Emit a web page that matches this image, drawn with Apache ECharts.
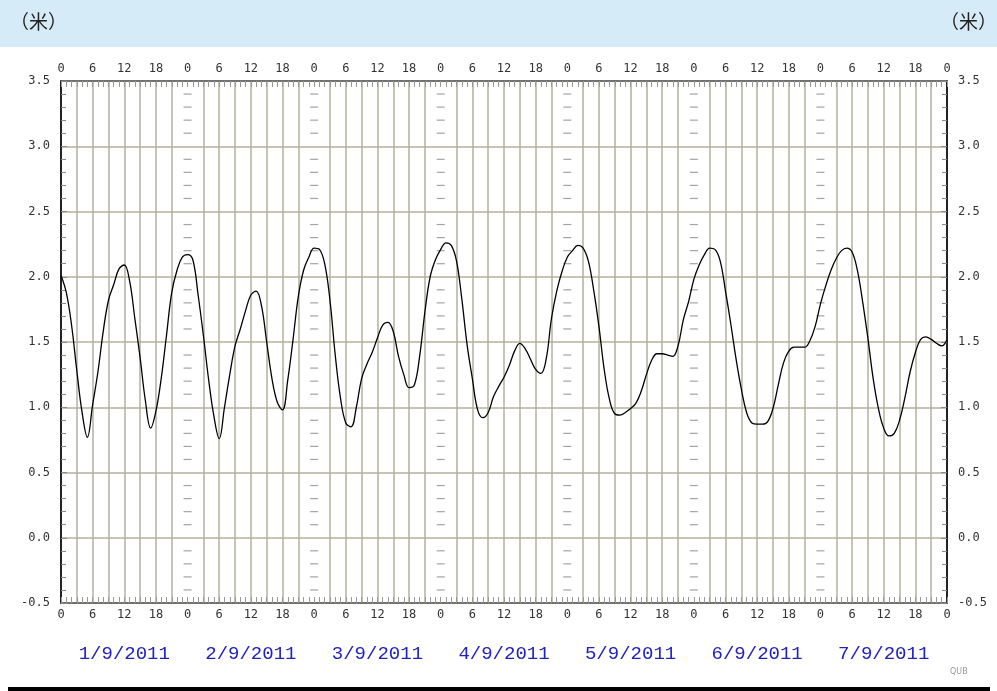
<!DOCTYPE html>
<html>
<head>
<meta charset="utf-8">
<script src="https://cdn.jsdelivr.net/npm/echarts@6/dist/echarts.min.js"></script>
<style>
	html, body { margin: 0; padding: 0; background: #fff; }
	#main { width: 997px; height: 691px; }
</style>
</head>
<body>
<div id="main"></div>
<script>
// 潮高 (米), hourly from 1/9/2011 00:00 to 8/9/2011 00:00
var tide = [
	2.01, 1.88, 1.63, 1.28, 0.96, 0.77, 1.02, 1.27, 1.58, 1.82, 1.94, 2.06,
	2.09, 1.97, 1.68, 1.38, 1.05, 0.84, 0.97, 1.22, 1.55, 1.88, 2.05, 2.15,
	2.17, 2.13, 1.86, 1.55, 1.21, 0.93, 0.76, 1.00, 1.25, 1.47, 1.60, 1.74,
	1.86, 1.89, 1.78, 1.50, 1.22, 1.04, 0.98, 1.21, 1.52, 1.85, 2.05, 2.15,
	2.22, 2.21, 2.10, 1.82, 1.40, 1.07, 0.88, 0.85, 1.00, 1.22, 1.33, 1.42,
	1.53, 1.63, 1.65, 1.58, 1.39, 1.25, 1.15, 1.17, 1.39, 1.73, 2.00, 2.13,
	2.21, 2.26, 2.24, 2.12, 1.83, 1.48, 1.22, 0.98, 0.92, 0.96, 1.08, 1.16,
	1.23, 1.32, 1.43, 1.49, 1.45, 1.37, 1.29, 1.26, 1.37, 1.68, 1.89, 2.04,
	2.15, 2.20, 2.24, 2.22, 2.12, 1.90, 1.62, 1.29, 1.06, 0.95, 0.94, 0.96,
	0.99, 1.03, 1.12, 1.25, 1.36, 1.41, 1.41, 1.40, 1.39, 1.47, 1.67, 1.81,
	1.98, 2.09, 2.17, 2.22, 2.21, 2.12, 1.89, 1.64, 1.37, 1.14, 0.96, 0.88,
	0.87, 0.87, 0.89, 0.99, 1.17, 1.34, 1.43, 1.46, 1.46, 1.46, 1.51, 1.62,
	1.79, 1.93, 2.05, 2.14, 2.20, 2.22, 2.19, 2.05, 1.81, 1.53, 1.22, 0.99,
	0.84, 0.78, 0.80, 0.90, 1.07, 1.27, 1.42, 1.52, 1.54, 1.52, 1.49, 1.47,
	1.52
];
var dates = ['1/9/2011', '2/9/2011', '3/9/2011', '4/9/2011', '5/9/2011', '6/9/2011', '7/9/2011'];
var dayStarts = [24, 48, 72, 96, 120, 144];
var yMin = -0.5, yMax = 3.5;

var gridColor = '#b3b09c';
var labelFont = 'DejaVu Sans Mono';

var chart = echarts.init(document.getElementById('main'));

// 每日分界线上的刻度 (0.1米)
var rulerData = [];
for (var d = 0; d < dayStarts.length; d++) {
	for (var k = -4; k <= 34; k++) {
		if (k % 5 === 0) continue;
		rulerData.push([dayStarts[d], k / 10]);
	}
}

var lineData = [];
for (var i = 0; i < tide.length; i++) {
	lineData.push([i, tide[i]]);
}

function hourAxis(pos, showSplit) {
	return {
		type: 'value',
		position: pos,
		min: 0,
		max: 168,
		interval: 3,
		axisLine: { show: true, onZero: false, lineStyle: { color: '#555', width: 1.5 } },
		axisTick: { show: true, inside: true, length: 6, lineStyle: { color: '#999' } },
		minorTick: { show: true, splitNumber: 3, length: 6, lineStyle: { color: '#999' } },
		axisLabel: {
			margin: 6,
			color: '#333',
			fontFamily: labelFont,
			fontSize: 12,
			formatter: function(v) {
				return v % 6 === 0 ? String(v % 24) : '';
			}
		},
		splitLine: {
			show: showSplit,
			lineStyle: {
				width: 1.5,
				color: ['rgba(0,0,0,0)', gridColor, gridColor, gridColor, gridColor, gridColor, gridColor, gridColor]
			}
		}
	};
}

function levelAxis(pos) {
	return {
		type: 'value',
		position: pos,
		min: yMin,
		max: yMax,
		interval: 0.5,
		axisLine: { show: true, onZero: false, lineStyle: { color: '#222', width: 2 } },
		axisTick: { show: true, inside: true, length: 6, lineStyle: { color: '#888' } },
		minorTick: { show: true, splitNumber: 5, length: 5, lineStyle: { color: '#888' } },
		axisLabel: {
			margin: 11,
			color: '#333',
			fontFamily: labelFont,
			fontSize: 12,
			formatter: function(v) {
				return v.toFixed(1);
			}
		},
		splitLine: { show: pos === 'left', lineStyle: { color: gridColor, width: 1.5 } }
	};
}

var option = {
	backgroundColor: '#fff',
	animation: false,
	grid: {
		left: 61,
		right: 50,
		top: 81,
		bottom: 88,
		outerBoundsMode: 'none',
		containLabel: false
	},
	graphic: [{
		type: 'rect',
		left: 0,
		top: 0,
		shape: { width: 997, height: 47 },
		style: { fill: '#d5ebf8' },
		z: -10
	}, {
		type: 'rect',
		left: 8,
		top: 687,
		shape: { width: 982, height: 4 },
		style: { fill: '#000' }
	}, {
		type: 'text',
		left: 10,
		top: 12,
		style: { text: '（米）', fill: '#222', font: '19px "Noto Sans CJK SC"' }
	}, {
		type: 'text',
		right: 0,
		top: 12,
		style: { text: '（米）', fill: '#222', font: '19px "Noto Sans CJK SC"' }
	}, {
		type: 'text',
		left: 950,
		top: 668,
		style: { text: 'QUB', fill: '#999', font: '8px "DejaVu Sans"' }
	}],
	xAxis: [
		hourAxis('bottom', true),
		hourAxis('top', false),
		{
			type: 'category',
			position: 'bottom',
			offset: 37,
			data: dates,
			boundaryGap: true,
			axisLine: { show: false, onZero: false },
			axisTick: { show: false },
			splitLine: { show: false },
			axisLabel: {
				margin: 4,
				color: '#2222bb',
				fontFamily: 'Liberation Mono',
				fontSize: 19
			}
		}
	],
	yAxis: [levelAxis('left'), levelAxis('right')],
	series: [{
		type: 'scatter',
		xAxisIndex: 0,
		yAxisIndex: 0,
		data: rulerData,
		symbol: 'rect',
		symbolSize: [8, 1.2],
		itemStyle: { color: '#8c8c8c' },
		silent: true,
		z: 1
	}, {
		type: 'line',
		xAxisIndex: 0,
		yAxisIndex: 0,
		data: lineData,
		smooth: 0.4,
		showSymbol: false,
		lineStyle: { color: '#000', width: 1.3 },
		z: 5
	}]
};

chart.setOption(option);
</script>
</body>
</html>
